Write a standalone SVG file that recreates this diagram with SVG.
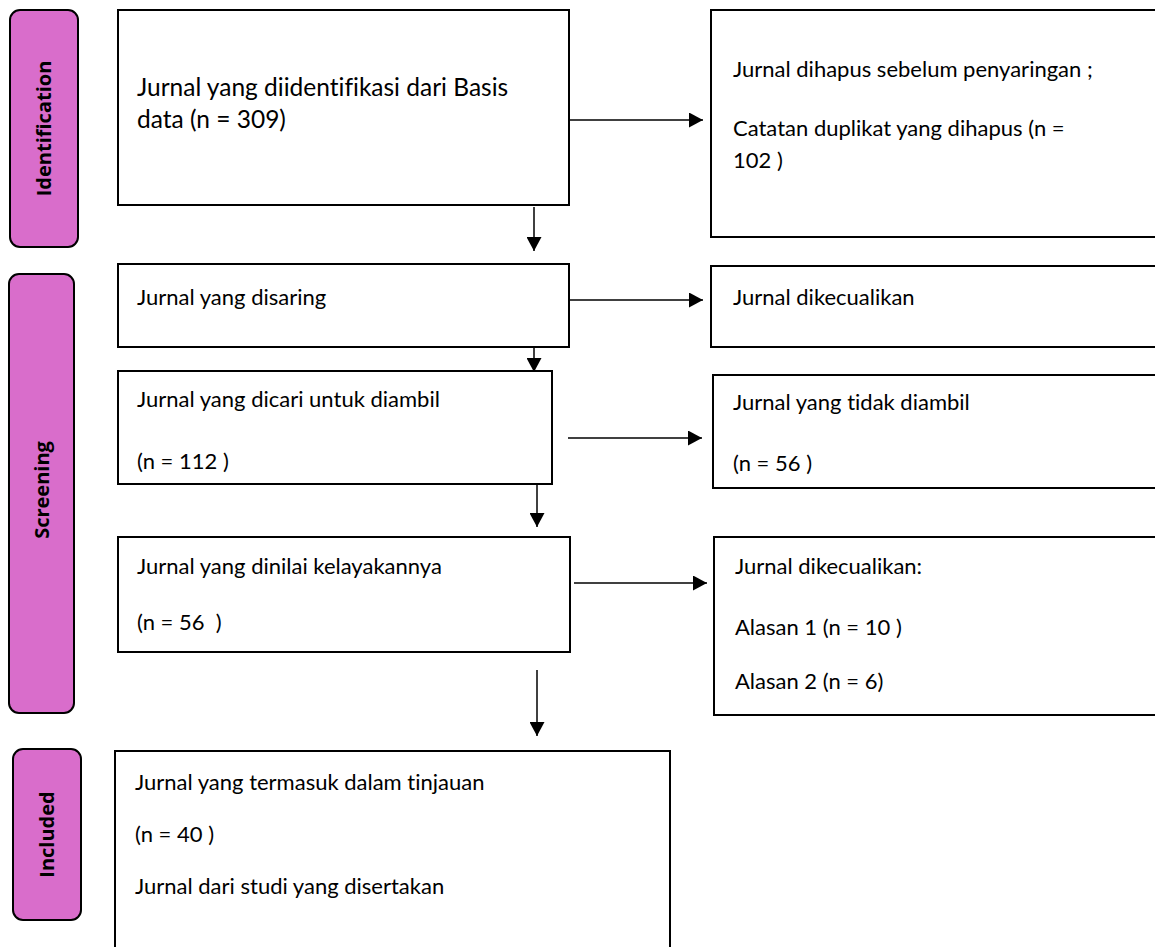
<svg xmlns="http://www.w3.org/2000/svg" width="1155" height="947" viewBox="0 0 1155 947">
<defs>
<style>
.box{fill:#fff;stroke:#000;stroke-width:2}
.lbl{fill:#D96DCB;stroke:#000;stroke-width:2}
.t{font-family:Lato,"Liberation Sans",sans-serif;font-size:22px;fill:#000;font-variant-ligatures:none}
.big{font-size:24.5px}
.lt{font-family:"Open Sans","Liberation Sans",sans-serif;font-size:20px;font-weight:bold;fill:#000;text-anchor:middle}
.c{fill:none;stroke:#000;stroke-width:1.5;marker-end:url(#ah)}
</style>
<marker id="ah" markerWidth="14" markerHeight="15" refX="14" refY="7.5" orient="auto" markerUnits="userSpaceOnUse">
<path d="M0,0 L14,7.5 L0,15 z" fill="#000"/>
</marker>
</defs>
<rect width="1155" height="947" fill="#fff"/>

<g id="label-identification">
<rect class="lbl" x="10" y="10" width="68" height="237" rx="10"/>
<text class="lt" transform="translate(51,128.5) rotate(-90)">Identification</text>
</g>
<g id="label-screening">
<rect class="lbl" x="9" y="274" width="65" height="439" rx="10"/>
<text class="lt" transform="translate(48.5,490) rotate(-90)">Screening</text>
</g>
<g id="label-included">
<rect class="lbl" x="13" y="749" width="68" height="171" rx="10"/>
<text class="lt" transform="translate(54,834.5) rotate(-90)">Included</text>
</g>

<g id="node-identified">
<rect class="box" x="118" y="10" width="451" height="195"/>
<text class="t big" x="137" y="96">Jurnal yang diidentifikasi dari Basis</text>
<text class="t big" x="137" y="128">data (n = 309)</text>
</g>
<g id="node-removed">
<rect class="box" x="711" y="10" width="460" height="227"/>
<text class="t" x="733" y="77">Jurnal dihapus sebelum penyaringan ;</text>
<text class="t" x="733" y="136">Catatan duplikat yang dihapus (n =</text>
<text class="t" x="733" y="168">102 )</text>
</g>
<g id="node-screened">
<rect class="box" x="118" y="264" width="451" height="83"/>
<text class="t" x="137" y="305">Jurnal yang disaring</text>
</g>
<g id="node-excluded1">
<rect class="box" x="711" y="266" width="460" height="81"/>
<text class="t" x="733" y="305">Jurnal dikecualikan</text>
</g>
<g id="node-sought">
<rect class="box" x="118" y="371" width="434" height="113"/>
<text class="t" x="137" y="407">Jurnal yang dicari untuk diambil</text>
<text class="t" x="137" y="469">(n = 112 )</text>
</g>
<g id="node-notretrieved">
<rect class="box" x="713" y="375" width="460" height="113"/>
<text class="t" x="733" y="410">Jurnal yang tidak diambil</text>
<text class="t" x="733" y="471">(n = 56 )</text>
</g>
<g id="node-assessed">
<rect class="box" x="118" y="537" width="452" height="115"/>
<text class="t" x="137" y="574">Jurnal yang dinilai kelayakannya</text>
<text class="t" x="137" y="630" xml:space="preserve">(n = 56  )</text>
</g>
<g id="node-excluded2">
<rect class="box" x="714" y="537" width="460" height="178"/>
<text class="t" x="735" y="574">Jurnal dikecualikan:</text>
<text class="t" x="735" y="635">Alasan 1 (n = 10 )</text>
<text class="t" x="735" y="689">Alasan 2 (n = 6)</text>
</g>
<g id="node-included">
<rect class="box" x="115" y="751" width="555" height="220"/>
<text class="t" x="135" y="790">Jurnal yang termasuk dalam tinjauan</text>
<text class="t" x="135" y="842">(n = 40 )</text>
<text class="t" x="135" y="894">Jurnal dari studi yang disertakan</text>
</g>

<g id="connectors">
<path class="c" d="M569,120 H703"/>
<path class="c" d="M534,207 V251"/>
<path class="c" d="M569,300 H703"/>
<path class="c" d="M534,347 V372"/>
<path class="c" d="M568,438 H702"/>
<path class="c" d="M537,484 V527"/>
<path class="c" d="M574,583 H707"/>
<path class="c" d="M537,670 V736"/>
</g>
</svg>
